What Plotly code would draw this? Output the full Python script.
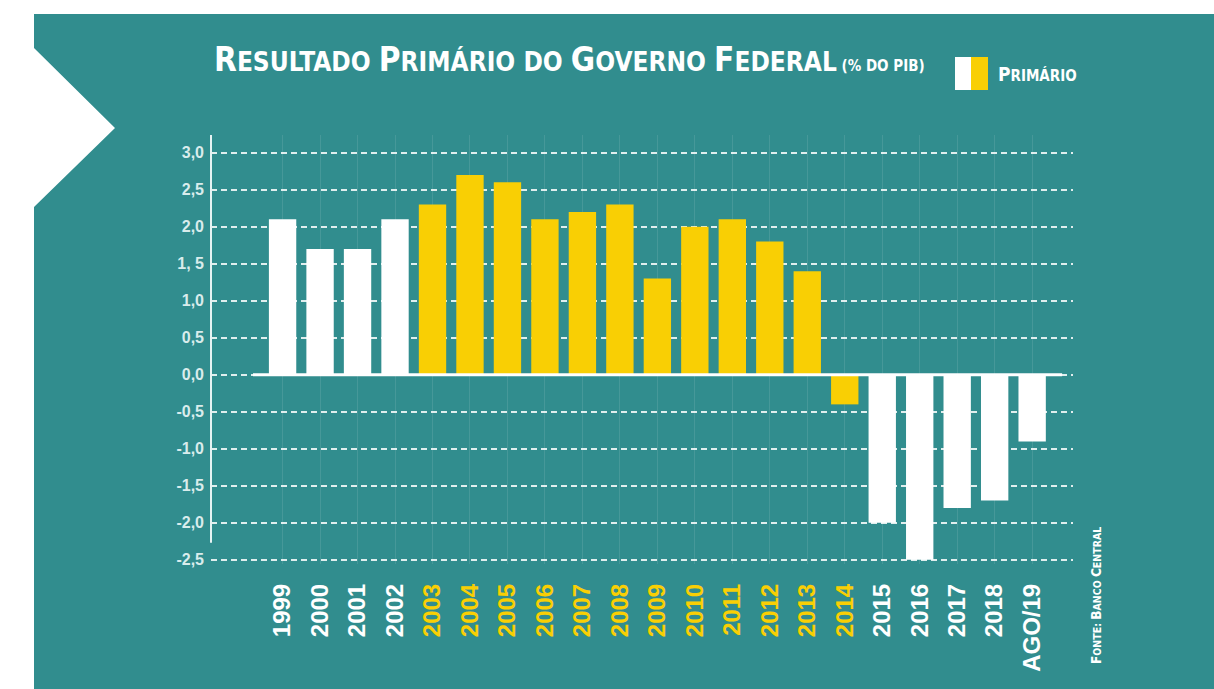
import plotly.graph_objects as go

# data (% do PIB)
anos = ["1999", "2000", "2001", "2002", "2003", "2004", "2005", "2006", "2007", "2008",
        "2009", "2010", "2011", "2012", "2013", "2014", "2015", "2016", "2017", "2018", "AGO/19"]
primario = [2.1, 1.7, 1.7, 2.1, 2.3, 2.7, 2.6, 2.1, 2.2, 2.3,
            1.3, 2.0, 2.1, 1.8, 1.4, -0.4, -2.0, -2.5, -1.8, -1.7, -0.9]
destaque = [False] * 4 + [True] * 12 + [False] * 5

y_ticks = [3.0, 2.5, 2.0, 1.5, 1.0, 0.5, 0.0, -0.5, -1.0, -1.5, -2.0, -2.5]
y_labels = ["3,0", "2,5", "2,0", "1, 5", "1,0", "0,5", "0,0", "-0,5", "-1,0", "-1,5", "-2,0", "-2,5"]

TEAL = "#318d8e"
YELLOW = "#f9cf04"
WHITE = "#ffffff"
NARROW = "DejaVu Sans Condensed, Liberation Sans Narrow, Arial Narrow, sans-serif"
SANS = "Liberation Sans, Arial, Helvetica, sans-serif"

W, H = 1214, 689
L, R, T, B = 211, 141, 135, 125
PW, PH = W - L - R, H - T - B


def px(x):
    return (x - L) / PW


def py(y):
    return (H - B - y) / PH


def caps(text, big):
    # fake small caps: first letter of each word bigger
    out = []
    for word in text.split(" "):
        if len(word) > 2:
            out.append(f"<span style='font-size:{big}px'>{word[0]}</span>{word[1:]}")
        else:
            out.append(word)
    return " ".join(out)


bar_colors = [YELLOW if d else WHITE for d in destaque]
tick_text = [f"<span style='color:{c}'>{a}</span>" for a, c in zip(anos, bar_colors)]

fig = go.Figure()
fig.add_trace(
    go.Bar(
        x=anos,
        y=primario,
        marker_color=bar_colors,
        marker_line_width=0,
        width=0.73,
        showlegend=False,
        hoverinfo="x+y",
    )
)

# teal panel with the white chevron notch on the left
pts = [(34, 14), (W, 14), (W, H), (34, H), (34, 207), (115, 128), (34, 48)]
path = "M " + " L ".join(f"{px(x)},{py(y)}" for x, y in pts) + " Z"
shapes = [
    dict(type="path", path=path, xref="paper", yref="paper", fillcolor=TEAL,
         line_width=0, layer="below"),
    # y axis line
    dict(type="line", xref="x domain", yref="y", x0=0, x1=0, y0=3.24, y1=-2.27,
         line=dict(color="#e6f3f3", width=2)),
    # zero line
    dict(type="line", xref="x", yref="y", x0=-0.79, x1=20.8, y0=0, y1=0,
         line=dict(color=WHITE, width=3)),
    # legend swatch
    dict(type="rect", xref="paper", yref="paper", x0=px(955), x1=px(971), y0=py(90), y1=py(57),
         fillcolor=WHITE, line_width=0),
    dict(type="rect", xref="paper", yref="paper", x0=px(971), x1=px(988), y0=py(90), y1=py(57),
         fillcolor=YELLOW, line_width=0),
]

annotations = [
    dict(text=caps("RESULTADO PRIMÁRIO DO GOVERNO FEDERAL", 33)
         + "<span style='font-size:15px'> (% DO PIB)</span>",
         xref="paper", yref="paper", x=px(212), y=py(59), xanchor="left", yanchor="middle",
         showarrow=False, font=dict(family=NARROW, size=26, color=WHITE, weight="bold")),
    dict(text=caps("PRIMÁRIO", 19),
         xref="paper", yref="paper", x=px(996), y=py(74), xanchor="left", yanchor="middle",
         showarrow=False, font=dict(family=NARROW, size=15, color=WHITE, weight="bold")),
    dict(text=caps("FONTE: BANCO CENTRAL", 13.5),
         xref="paper", yref="paper", x=px(1096), y=py(596), xanchor="center", yanchor="middle",
         textangle=-90, showarrow=False,
         font=dict(family=NARROW, size=10.5, color=WHITE, weight="bold")),
]

fig.update_layout(
    width=W,
    height=H,
    margin=dict(l=L, r=R, t=T, b=B, autoexpand=False),
    paper_bgcolor=WHITE,
    plot_bgcolor="rgba(0,0,0,0)",
    shapes=shapes,
    annotations=annotations,
    showlegend=False,
)

fig.update_xaxes(
    type="category",
    range=[-1.91, 21.09],
    tickvals=anos,
    ticktext=tick_text,
    tickangle=-90,
    ticks="",
    ticklabelstandoff=14,
    tickfont=dict(family=SANS, size=24, color=WHITE, weight="bold"),
    showgrid=True,
    gridcolor="rgba(255,255,255,0.10)",
    gridwidth=1,
    showline=False,
    zeroline=False,
)

fig.update_yaxes(
    range=[-2.557, 3.24],
    tickvals=y_ticks,
    ticktext=y_labels,
    ticks="",
    ticklabelstandoff=6,
    tickfont=dict(family=SANS, size=16, color="#d9ecec", weight="bold"),
    showgrid=True,
    gridcolor="rgba(255,255,255,0.85)",
    gridwidth=1.5,
    griddash="6px,4px",
    zeroline=False,
    showline=False,
)

# page margin off so the figure sits at the window's top-left corner
fig.write_html(
    "out.html",
    config={"displayModeBar": False},
    post_script="document.body.style.margin='0px';",
)
